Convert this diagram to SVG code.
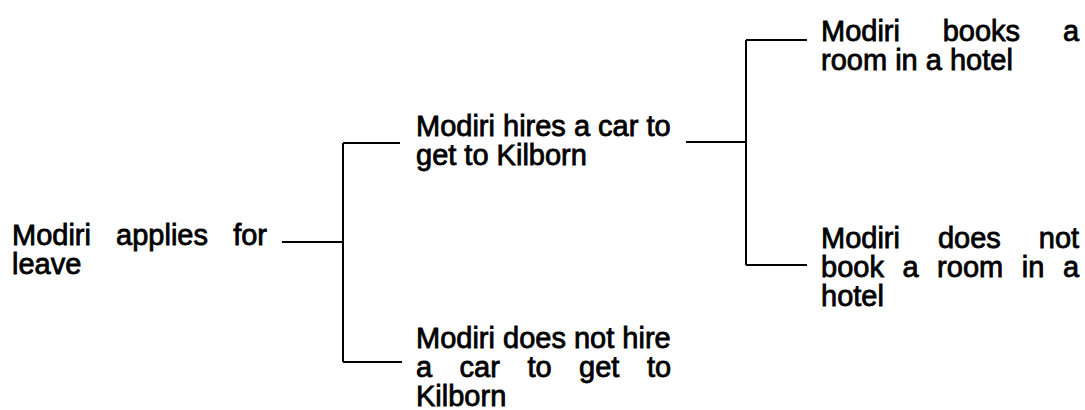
<svg xmlns="http://www.w3.org/2000/svg" width="1085" height="410" viewBox="0 0 1085 410">
<style>
text{font-family:"Liberation Sans",Arial,sans-serif;font-size:29px;fill:#000;stroke:#000;stroke-width:0.8px}
.c{fill:none;stroke:#000;stroke-width:2}
</style>
<rect width="1085" height="410" fill="#fff"/>
<g id="connectors">
<path class="c" d="M282 242H343M343 143V362M343 143H400M343 362H402"/>
<path class="c" d="M686 142H746M746 40V265M746 40H807M746 265H807"/>
</g>
<g id="n_apply">
<text><tspan x="12" y="245">Modiri</tspan><tspan x="116.1" y="245">applies</tspan><tspan x="233.2" y="245">for</tspan><tspan x="12" y="274">leave</tspan></text>
</g>
<g id="n_hire">
<text><tspan x="416" y="136">Modiri hires a car to</tspan><tspan x="416" y="165">get to Kilborn</tspan></text>
</g>
<g id="n_nohire">
<text><tspan x="416" y="348">Modiri does not hire</tspan><tspan x="416" y="377">a</tspan><tspan x="459.6" y="377">car</tspan><tspan x="527.4" y="377">to</tspan><tspan x="579.1" y="377">get</tspan><tspan x="646.9" y="377">to</tspan><tspan x="416" y="406">Kilborn</tspan></text>
</g>
<g id="n_book">
<text><tspan x="821" y="41">Modiri</tspan><tspan x="942.7" y="41">books</tspan><tspan x="1062.9" y="41">a</tspan><tspan x="821" y="70">room in a hotel</tspan></text>
</g>
<g id="n_nobook">
<text><tspan x="821" y="248">Modiri</tspan><tspan x="937.9" y="248">does</tspan><tspan x="1038.8" y="248">not</tspan><tspan x="821" y="277">book</tspan><tspan x="902.45" y="277">a</tspan><tspan x="937.1" y="277">room</tspan><tspan x="1021.75" y="277">in</tspan><tspan x="1062.9" y="277">a</tspan><tspan x="821" y="306">hotel</tspan></text>
</g>
</svg>
